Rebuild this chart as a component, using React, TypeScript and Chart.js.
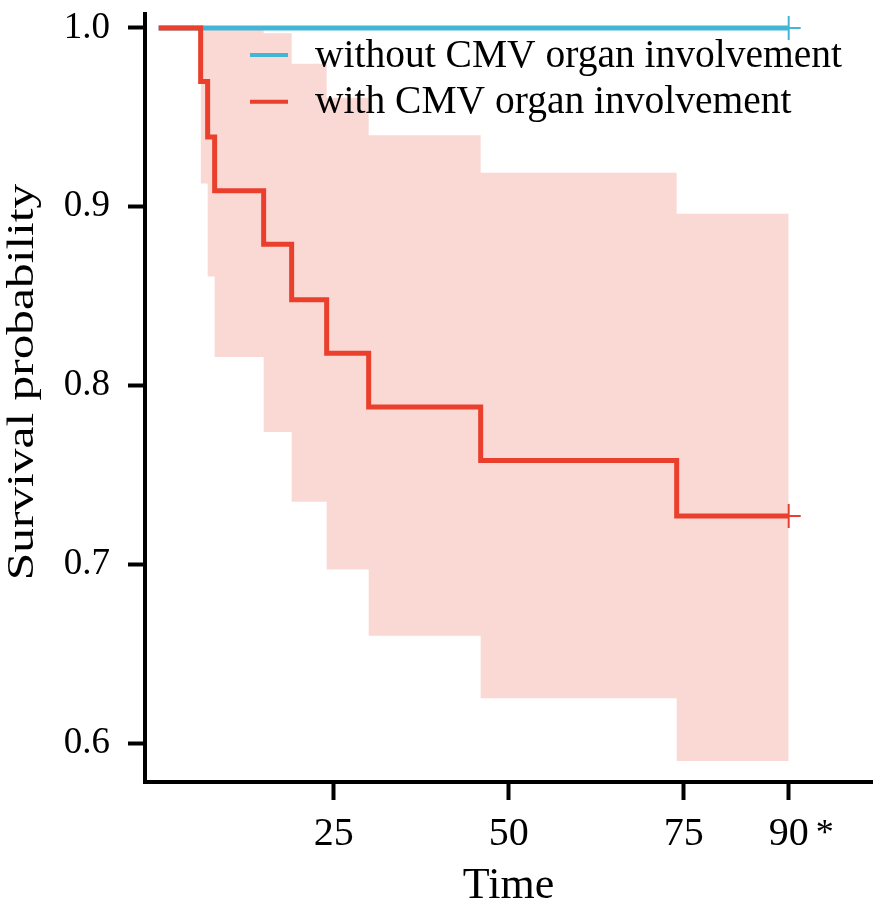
import { useEffect, useRef } from "react"
import { Chart, registerables } from "chart.js"

Chart.register(...registerables)

// Kaplan-Meier estimates
const TIMES_WITH = [0, 6, 7, 8, 15, 19, 24, 30, 46, 74, 90]
const SURV_WITH = [1.0, 0.970, 0.939, 0.909, 0.879, 0.848, 0.818, 0.788, 0.758, 0.727, 0.727]
const TIMES_WITHOUT = [0, 90]
const SURV_WITHOUT = [1.0, 1.0]

// confidence band for the CMV organ involvement group
const CI_TIMES = [6, 7, 8, 15, 19, 24, 30, 46, 74, 90]
const CI_UPPER = [1.0, 1.0, 1.0, 0.997, 0.98, 0.961, 0.94, 0.919, 0.896, 0.896]
const CI_LOWER = [0.913, 0.861, 0.816, 0.774, 0.735, 0.697, 0.66, 0.625, 0.59, 0.59]

const SERIES_LABELS = ["without CMV organ involvement", "with CMV organ involvement"]
const X_TICKS = [25, 50, 75, 90]
const Y_TICKS = [0.6, 0.7, 0.8, 0.9, 1.0]
const X_TITLE = "Time"
const Y_TITLE = "Survival probability"
const TICK_NOTE = "*"

const BLUE = "#45b5d5"
const RED = "#ea3f2c"
const BAND = "rgba(240, 130, 115, 0.3)"
const SERIF = "'Liberation Serif', 'Times New Roman', serif"

const toPoints = (xs: number[], ys: number[]) => xs.map((x, i) => ({ x, y: ys[i] }))

const lastOnly = (n: number, r: number) => (c: any) => (c.dataIndex === n - 1 ? r : 0)

// legend inside the plot, the y title (drawn a bit tall) and the asterisk after 90
const overlayPlugin = {
  id: "overlay",
  afterDatasetsDraw(chart: any) {
    const { ctx, chartArea } = chart
    const colors = [BLUE, RED]
    ctx.save()
    SERIES_LABELS.forEach((label, i) => {
      const y = 55 + i * 46.7
      ctx.strokeStyle = colors[i]
      ctx.lineWidth = 4
      ctx.beginPath()
      ctx.moveTo(250, y)
      ctx.lineTo(288, y)
      ctx.stroke()
      ctx.fillStyle = "#000"
      ctx.font = `39.5px ${SERIF}`
      ctx.textAlign = "left"
      ctx.textBaseline = "alphabetic"
      ctx.fillText(label, 315, y + 11.7)
    })

    ctx.save()
    ctx.translate(33, 382)
    ctx.rotate(-Math.PI / 2)
    ctx.scale(1.3, 1)
    ctx.font = `38px ${SERIF}`
    ctx.textAlign = "center"
    ctx.textBaseline = "alphabetic"
    ctx.fillText(Y_TITLE, 0, 0)
    ctx.restore()

    const xs = chart.scales.x
    ctx.font = `36px ${SERIF}`
    ctx.textAlign = "center"
    ctx.textBaseline = "alphabetic"
    ctx.fillText(TICK_NOTE, xs.getPixelForValue(X_TICKS[X_TICKS.length - 1]) + 36, chartArea.bottom + 62)
    ctx.restore()
  },
}

function SurvivalChart() {
  const chartRef = useRef<HTMLCanvasElement>(null)
  const chartInstance = useRef<Chart | null>(null)

  useEffect(() => {
    if (!chartRef.current) return
    const ctx = chartRef.current.getContext("2d")
    if (!ctx) return

    if (chartInstance.current) {
      chartInstance.current.destroy()
    }

    chartInstance.current = new Chart(ctx, {
      type: "line",
      data: {
        datasets: [
          {
            label: SERIES_LABELS[1],
            data: toPoints(TIMES_WITH, SURV_WITH),
            borderColor: RED,
            borderWidth: 5,
            stepped: true,
            fill: false,
            pointStyle: "cross",
            pointRadius: lastOnly(TIMES_WITH.length, 12),
            pointBorderColor: RED,
            pointBorderWidth: 2,
          },
          {
            label: SERIES_LABELS[0],
            data: toPoints(TIMES_WITHOUT, SURV_WITHOUT),
            borderColor: BLUE,
            borderWidth: 5,
            stepped: true,
            fill: false,
            pointStyle: "cross",
            pointRadius: lastOnly(TIMES_WITHOUT.length, 12),
            pointBorderColor: BLUE,
            pointBorderWidth: 2,
          },
          {
            label: "upper",
            data: toPoints(CI_TIMES, CI_UPPER),
            borderWidth: 0,
            borderColor: "transparent",
            backgroundColor: BAND,
            stepped: true,
            pointRadius: 0,
            fill: "+1",
          },
          {
            label: "lower",
            data: toPoints(CI_TIMES, CI_LOWER),
            borderWidth: 0,
            borderColor: "transparent",
            stepped: true,
            pointRadius: 0,
            fill: false,
          },
        ],
      },
      options: {
        responsive: true,
        maintainAspectRatio: false,
        animation: false,
        layout: { padding: { top: 0, right: 13, left: 0, bottom: 0 } },
        plugins: {
          legend: { display: false },
          tooltip: { enabled: false },
        },
        scales: {
          x: {
            type: "linear",
            min: -1.95,
            max: 101.9,
            afterBuildTicks: (scale: any) => {
              scale.ticks = X_TICKS.map((value) => ({ value }))
            },
            afterFit: (scale: any) => {
              scale.height = 129
              scale.paddingLeft = 0
              scale.paddingRight = 0
            },
            grid: {
              display: true,
              drawOnChartArea: false,
              drawTicks: true,
              tickLength: 18,
              tickWidth: 4,
              tickColor: "#000",
            },
            border: { display: true, width: 4, color: "#000" },
            ticks: {
              autoSkip: false,
              maxRotation: 0,
              padding: 10,
              color: "#000",
              font: { family: SERIF, size: 40 },
              callback: (v: any) => String(v),
            },
            title: {
              display: true,
              text: X_TITLE,
              color: "#000",
              font: { family: SERIF, size: 44, lineHeight: 1.1 },
              padding: { top: 0, bottom: 0 },
            },
          },
          y: {
            type: "linear",
            min: 0.5782,
            max: 1.0078,
            afterBuildTicks: (scale: any) => {
              scale.ticks = Y_TICKS.map((value) => ({ value }))
            },
            afterFit: (scale: any) => {
              scale.width = 145
              scale.paddingTop = 0
              scale.paddingBottom = 0
            },
            grid: {
              display: true,
              drawOnChartArea: false,
              drawTicks: true,
              tickLength: 17,
              tickWidth: 4,
              tickColor: "#000",
            },
            border: { display: true, width: 4, color: "#000" },
            ticks: {
              autoSkip: false,
              padding: 18,
              color: "#000",
              font: { family: SERIF, size: 37 },
              callback: (v: any) => Number(v).toFixed(1),
            },
            title: { display: false },
          },
        },
      },
      plugins: [overlayPlugin],
    } as any)

    return () => {
      if (chartInstance.current) {
        chartInstance.current.destroy()
        chartInstance.current = null
      }
    }
  }, [])

  return (
    <div style={{ position: "fixed", left: 0, top: 0, width: 886, height: 911, background: "#fff" }}>
      <canvas ref={chartRef} />
    </div>
  )
}

export default function App() {
  return <SurvivalChart />
}
